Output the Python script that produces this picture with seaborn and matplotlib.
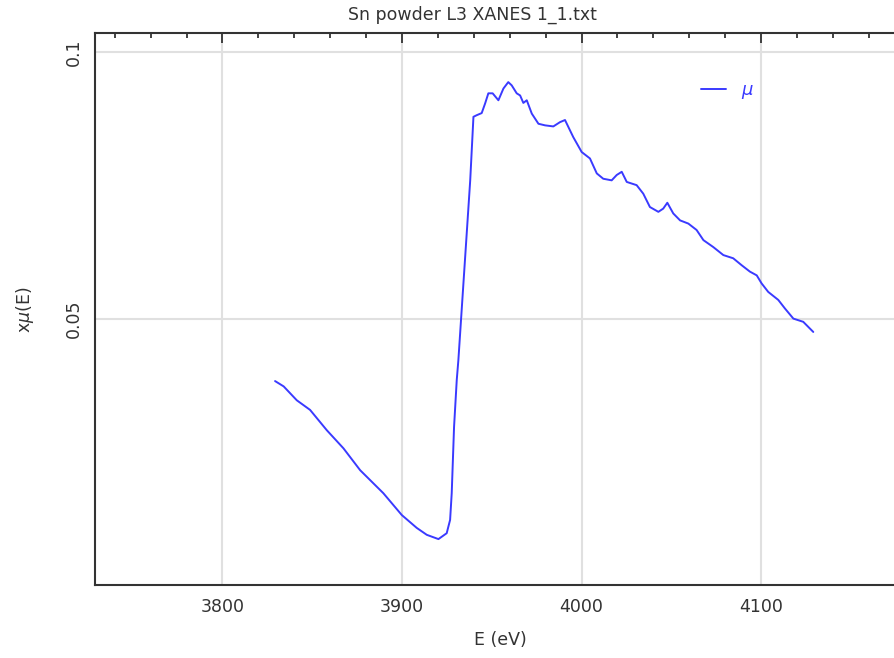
import matplotlib
matplotlib.use("Agg")
import matplotlib.pyplot as plt
from matplotlib.ticker import MultipleLocator
import seaborn as sns
import pandas as pd

title = "Sn powder L3 XANES 1_1.txt"
x_label = "E (eV)"
y_label = r"x$\mu$(E)"
series_label = r"$\mu$"

energy = [3829.3, 3834.1, 3841.4, 3848.8, 3858.1, 3867.4, 3876.7, 3889.6, 3899.9,
          3908.2, 3913.8, 3920.3, 3924.9, 3926.8, 3927.7, 3929.0, 3930.5, 3931.4,
          3938.0, 3939.8, 3941.6, 3944.4, 3946.3, 3948.1, 3950.5, 3953.7, 3956.5,
          3959.2, 3961.1, 3963.9, 3965.8, 3967.6, 3969.5, 3972.3, 3976.0, 3979.7,
          3984.3, 3988.0, 3990.8, 3995.4, 4000.1, 4004.7, 4008.5, 4012.1, 4016.8,
          4019.6, 4022.4, 4025.2, 4030.7, 4034.4, 4038.1, 4042.8, 4045.5, 4047.8,
          4051.1, 4054.9, 4059.5, 4064.1, 4067.9, 4073.4, 4079.0, 4084.5, 4089.2,
          4093.8, 4097.6, 4100.3, 4104.0, 4109.6, 4113.3, 4118.0, 4123.5, 4129.1]
mu = [0.0384, 0.0374, 0.0348, 0.0330, 0.0292, 0.0258, 0.0217, 0.0174, 0.0133,
      0.0109, 0.0096, 0.0088, 0.0099, 0.0124, 0.0174, 0.0298, 0.0386, 0.0423,
      0.0760, 0.0879, 0.0882, 0.0886, 0.0904, 0.0923, 0.0923, 0.0910, 0.0932,
      0.0944, 0.0938, 0.0923, 0.0919, 0.0905, 0.0910, 0.0885, 0.0866, 0.0863,
      0.0861, 0.0869, 0.0873, 0.0841, 0.0813, 0.0801, 0.0773, 0.0763, 0.0760,
      0.0770, 0.0776, 0.0757, 0.0751, 0.0735, 0.0710, 0.0701, 0.0707, 0.0718,
      0.0698, 0.0685, 0.0679, 0.0667, 0.0648, 0.0635, 0.0620, 0.0614, 0.0601,
      0.0589, 0.0582, 0.0567, 0.0551, 0.0536, 0.0520, 0.0501, 0.0495, 0.0476]

x_ticks = [3800, 3900, 4000, 4100]
y_ticks = [0.05, 0.1]
y_tick_labels = ["0.05", "0.1"]

sns.set_style("white")
plt.rcParams["font.family"] = ["DejaVu Sans"]

W, H = 894, 658
fig = plt.figure(figsize=(W / 100, H / 100), dpi=100)
left_px, right_px, top_px, bottom_px = 95, 900, 33, 585
ax = fig.add_axes([left_px / W, 1 - bottom_px / H,
                   (right_px - left_px) / W, (bottom_px - top_px) / H])

df = pd.DataFrame({"E": energy, "mu": mu})
sns.lineplot(data=df, x="E", y="mu", ax=ax, color="#3a3aff", linewidth=1.4,
             label=series_label, sort=False)

ax.set_xlim(3729, 4177.4)
ax.set_ylim(0.0002, 0.1036)

ax.set_xticks(x_ticks)
ax.xaxis.set_minor_locator(MultipleLocator(20))
ax.set_yticks(y_ticks)
ax.set_yticklabels(y_tick_labels, rotation=90, va="center")
ax.yaxis.set_minor_locator(MultipleLocator(0.01))

ax.grid(True, which="major", color="#e0e0e0", linewidth=1.5)
ax.set_axisbelow(True)

for side in ["left", "bottom", "top"]:
    ax.spines[side].set_visible(True)
    ax.spines[side].set_color("#333333")
    ax.spines[side].set_linewidth(1.5)
ax.spines["right"].set_visible(False)

ax.tick_params(which="both", direction="in", top=True, right=False,
               color="#333333", width=1.3, labelcolor="#333333", labelsize=12.5)
ax.tick_params(which="major", length=7.5)
ax.tick_params(which="minor", length=3.5)
ax.tick_params(axis="x", which="major", pad=9)
ax.tick_params(axis="y", which="major", pad=9)

ax.set_xlabel(x_label, fontsize=12.5, color="#333333")
ax.set_ylabel(y_label, fontsize=12.5, color="#333333")
ax.xaxis.set_label_coords((500 - left_px) / (right_px - left_px),
                          -(631 - bottom_px) / (bottom_px - top_px))
ax.yaxis.set_label_coords(-(95 - 36) / (right_px - left_px),
                          (bottom_px - 310) / (bottom_px - top_px))

fig.text(472 / W, 1 - 15 / H, title, ha="center", va="center",
         fontsize=12.5, color="#333333")

ax.legend(loc="upper left", bbox_to_anchor=(701 / W, 1 - 81 / H),
          bbox_transform=fig.transFigure, frameon=False, borderpad=0,
          borderaxespad=0, handlelength=1.4, handletextpad=0.8,
          fontsize=13, labelcolor="#3a3aff")

fig.savefig("out.png", dpi=100)
